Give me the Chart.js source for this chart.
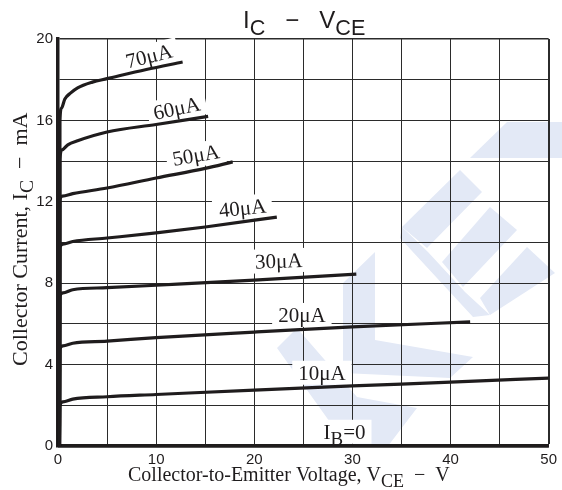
<!DOCTYPE html>
<html>
<head>
<meta charset="utf-8">
<script src="https://cdn.jsdelivr.net/npm/chart.js@4/dist/chart.umd.min.js"></script>
<style>
  html, body { margin: 0; padding: 0; background: #fff; }
</style>
</head>
<body>
<canvas id="icvce" width="562" height="490"></canvas>
<script>
// base current for each curve, top to bottom
const curveNames = ['70μA', '60μA', '50μA', '40μA', '30μA', '20μA', '10μA', 'IB=0'];

// [VCE (V), IC (mA)]
const ib70 = [[0.15, 0], [0.2, 16.0], [0.35, 16.6], [0.7, 17.05], [1.3, 17.35], [2, 17.6], [3.5, 17.88], [5, 18.05], [9, 18.5], [12.7, 18.87]];
const ib60 = [[0.15, 0], [0.2, 14.1], [0.4, 14.55], [1, 14.8], [2, 15.0], [5, 15.43], [10, 15.8], [15.3, 16.2]];
const ib50 = [[0.15, 0], [0.2, 12.1], [0.45, 12.28], [1.5, 12.4], [5, 12.68], [10, 13.17], [15, 13.64], [17.8, 13.96]];
const ib40 = [[0.15, 0], [0.2, 9.75], [0.5, 9.92], [1.5, 10.05], [5, 10.22], [10, 10.47], [15, 10.76], [22.3, 11.25]];
const ib30 = [[0.15, 0], [0.2, 7.35], [0.5, 7.52], [1.5, 7.68], [5, 7.78], [10, 7.9], [20, 8.15], [30.4, 8.45]];
const ib20 = [[0.15, 0], [0.2, 4.75], [0.5, 4.92], [1.5, 5.05], [5, 5.15], [10, 5.33], [20, 5.6], [30, 5.85], [42, 6.1]];
const ib10 = [[0.15, 0], [0.2, 2.0], [0.5, 2.17], [1.5, 2.3], [5, 2.42], [10, 2.53], [20, 2.75], [30, 2.95], [40, 3.14], [50, 3.34]];
const ib0 = [[0, 0], [50, 0]];

const curves = [ib70, ib60, ib50, ib40, ib30, ib20, ib10, ib0];

// labelled ticks (grid runs every 5 V / 2 mA)
const vceTicks = [0, 10, 20, 30, 40, 50];
const icTicks = [0, 4, 8, 12, 16, 20];

// where each curve's label sits: [VCE, IC, rotation deg]
const labelAt = [[9.27, 19.16, -14], [12.1, 16.6, -12], [14.05, 14.3, -10], [18.8, 11.7, -6],
                 [22.5, 9.1, -2], [24.85, 6.44, 0], [26.9, 3.6, 0], [29.2, 0.7, 0]];

const INK = '#1f1c1d';
const SERIF = '"Liberation Serif", "Times New Roman", serif';
const SANS = '"Liberation Sans", Arial, sans-serif';

// parts: [[text, isSub], ...]
function richWidth(ctx, parts, family, size) {
  let w = 0;
  for (const [t, sub] of parts) {
    ctx.font = (sub ? size * 0.9 : size) + 'px ' + family;
    w += ctx.measureText(t).width;
  }
  return w;
}
function drawRich(ctx, parts, x, y, family, size, align) {
  const w = richWidth(ctx, parts, family, size);
  let cx = align === 'left' ? x : x - w / 2;
  ctx.textAlign = 'left';
  ctx.textBaseline = 'alphabetic';
  for (const [t, sub] of parts) {
    ctx.font = (sub ? size * 0.9 : size) + 'px ' + family;
    ctx.fillText(t, cx, sub ? y + size * 0.28 : y);
    cx += ctx.measureText(t).width;
  }
}

// faint logo watermark behind the grid (canvas pixels)
const logoShapes = [
  [[470, 158], [507, 122], [562, 122], [562, 158]],
  [[460, 170], [482, 192], [427, 248], [402, 227]],
  [[490, 207], [517, 230], [463, 287], [442, 262]],
  [[527, 247], [555, 273], [490, 315], [480, 298]],
  [[402, 227], [428, 252], [465, 292], [490, 315], [473, 317], [400, 238]],
  [[343, 283], [375, 252], [375, 340], [473, 357], [450, 378], [343, 373]],
  [[277, 348], [297, 328], [357, 397], [417, 408], [388, 446], [347, 446]]
];
const watermark = {
  id: 'watermark',
  beforeDraw(chart) {
    const ctx = chart.ctx;
    ctx.save();
    ctx.fillStyle = '#e3e9f6';
    for (const poly of logoShapes) {
      ctx.beginPath();
      poly.forEach(([px, py], i) => i ? ctx.lineTo(px, py) : ctx.moveTo(px, py));
      ctx.closePath();
      ctx.fill();
    }
    ctx.restore();
  }
};

const curveLabels = {
  id: 'curveLabels',
  beforeDatasetsDraw(chart) {
    const { ctx, scales: { x, y } } = chart;
    curveNames.forEach((name, i) => {
      const [vx, vy, rot] = labelAt[i];
      const parts = name === 'IB=0' ? [['I'], ['B', true], ['=0']] : [[name]];
      const size = 21;
      const w = richWidth(ctx, parts, SERIF, size);
      ctx.save();
      ctx.translate(x.getPixelForValue(vx), y.getPixelForValue(vy));
      ctx.rotate(rot * Math.PI / 180);
      ctx.fillStyle = '#fff';
      ctx.fillRect(-w / 2 - 6, -12, w + 12, 24);
      ctx.fillStyle = INK;
      drawRich(ctx, parts, 0, 7, SERIF, size);
      ctx.restore();
    });
  }
};

const axisText = {
  id: 'axisText',
  afterDraw(chart) {
    const ctx = chart.ctx;
    ctx.save();
    ctx.fillStyle = INK;
    // title
    drawRich(ctx, [['I'], ['C', true], ['   −   '], ['V'], ['CE', true]], 243, 28, SANS, 24, 'left');
    // x title
    drawRich(ctx, [['Collector-to-Emitter Voltage, V'], ['CE', true], ['  −  V']], 128, 481, SERIF, 20, 'left');
    // y title
    ctx.translate(27, 366);
    ctx.rotate(-Math.PI / 2);
    drawRich(ctx, [['Collector Current, I'], ['C', true], ['  −  mA']], 0, 0, SERIF, 22, 'left');
    ctx.restore();
  }
};

new Chart(document.getElementById('icvce'), {
  type: 'scatter',
  data: {
    datasets: curves.map((pts, i) => ({
      label: curveNames[i],
      data: pts.map(([vx, vy]) => ({ x: vx, y: vy })),
      showLine: true,
      borderColor: INK,
      borderWidth: 3.2,
      pointRadius: 0,
      cubicInterpolationMode: 'monotone',
      clip: 4
    }))
  },
  options: {
    responsive: false,
    animation: false,
    layout: { padding: { top: 39, right: 13, left: 0, bottom: 0 } },
    plugins: { legend: { display: false }, tooltip: { enabled: false } },
    scales: {
      x: {
        type: 'linear', min: 0, max: 50,
        ticks: {
          stepSize: 5, autoSkip: false, maxRotation: 0, padding: 5, color: INK,
          font: { family: SANS, size: 15 },
          callback: v => vceTicks.includes(v) ? v : ''
        },
        grid: { color: '#2b2b2b', lineWidth: c => (c.tick && c.tick.value === 50) ? 2 : 1, drawTicks: false },
        border: { color: INK, width: 3.5 },
        afterFit(s) { s.height = 44; }
      },
      y: {
        type: 'linear', min: 0, max: 20,
        ticks: {
          stepSize: 2, autoSkip: false, padding: 5, color: INK,
          font: { family: SANS, size: 15 },
          callback: v => icTicks.includes(v) ? v : ''
        },
        grid: { color: '#2b2b2b', lineWidth: c => (c.tick && c.tick.value === 20) ? 1.5 : 1, drawTicks: false },
        border: { color: INK, width: 3.5 },
        afterFit(s) { s.width = 58; }
      }
    }
  },
  plugins: [watermark, curveLabels, axisText]
});
</script>
</body>
</html>
